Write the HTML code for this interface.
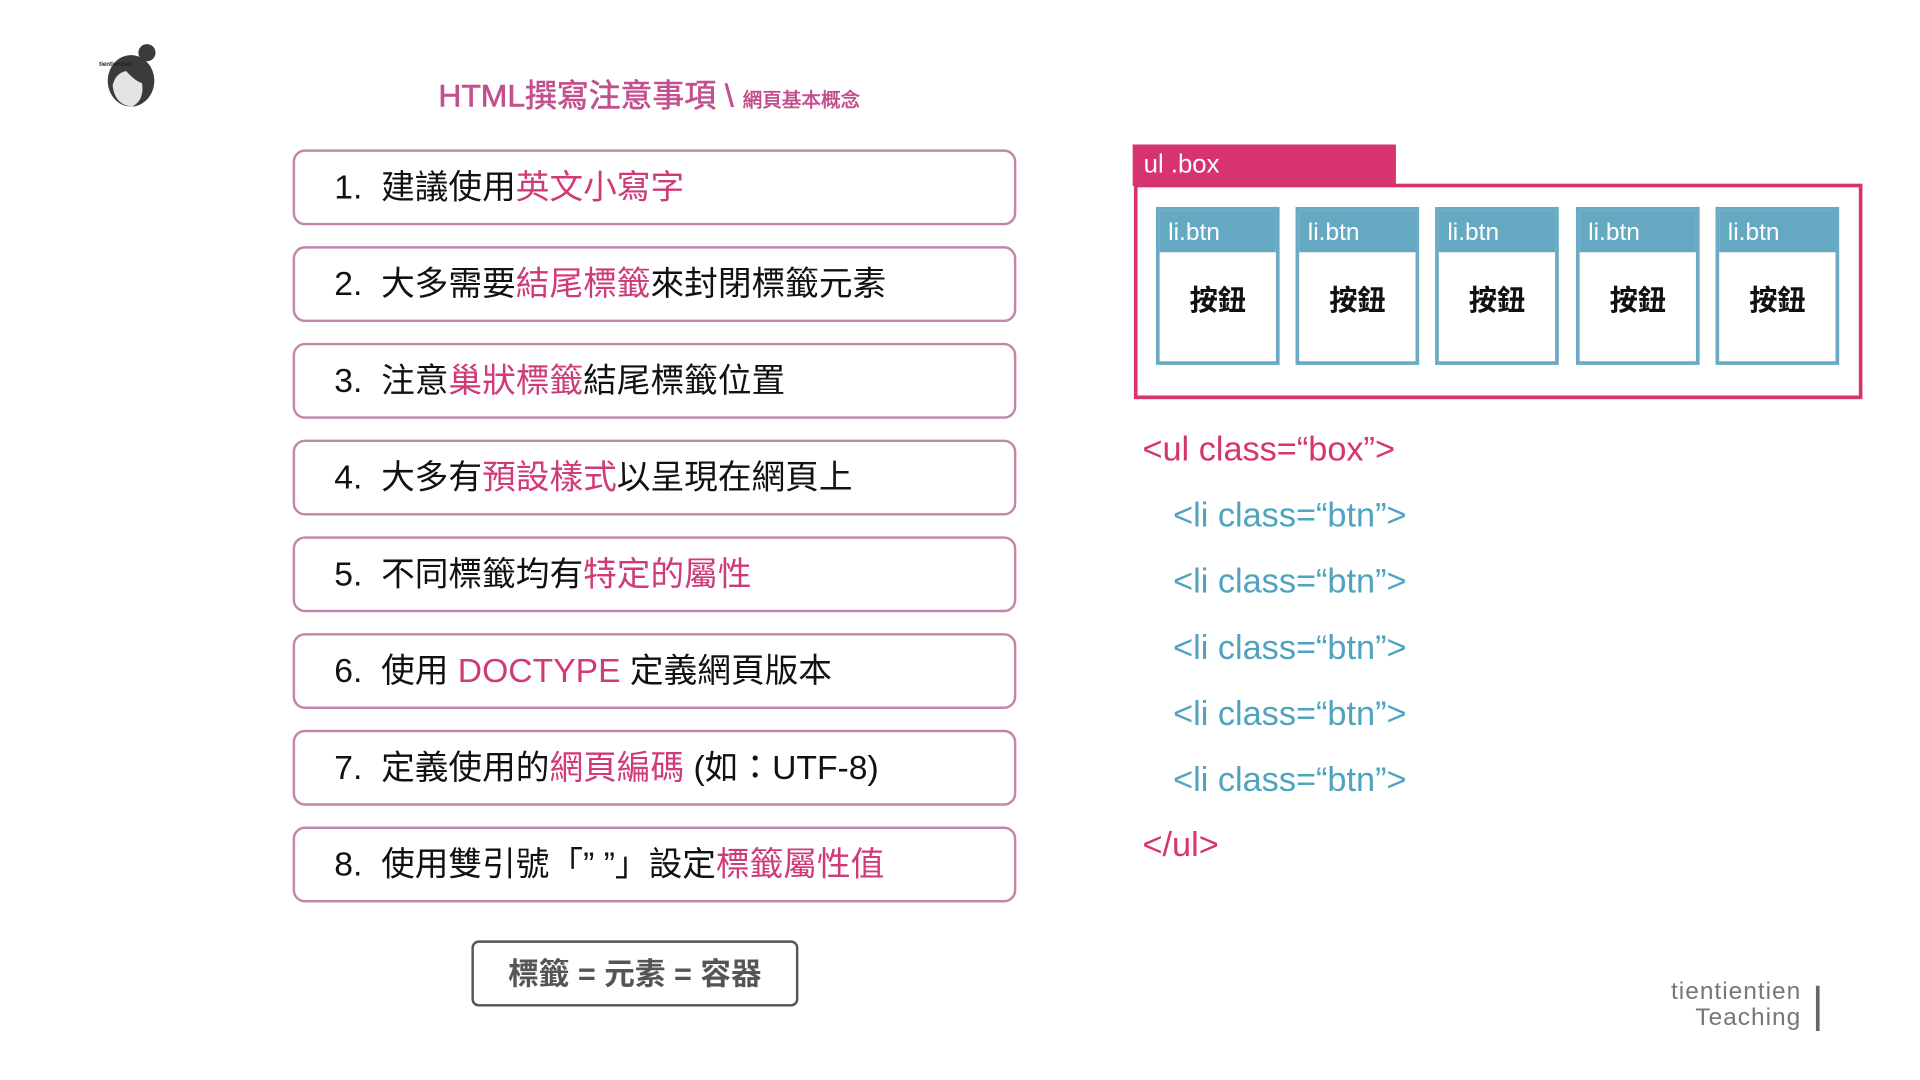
<!DOCTYPE html>
<html><head><meta charset="utf-8"><style>
html,body{margin:0;padding:0;background:#fff;width:1920px;height:1080px;overflow:hidden}
#c{position:absolute;left:0;top:0;width:1568px;height:882px;transform:scale(1.2245);transform-origin:0 0;font-family:"Liberation Sans","Noto Sans CJK TC",sans-serif}
.a{position:absolute}
.item{position:absolute;left:239px;width:587px;height:58px;border:2.5px solid #c386ab;border-radius:10px;font-size:27.5px;line-height:58px;color:#111;white-space:nowrap}
.item span.n{display:inline-block;margin-left:32px}
.h{color:#cf3a78}
.li{position:absolute;top:169px;width:95px;height:123px;border:3px solid #6aaac4;background:#fff}
.li .hd{background:#65a8c2;height:34px;color:#fff;font-size:20px;line-height:36px;padding-left:7px}
.li .bd{text-align:center;font-weight:bold;font-size:23px;margin-top:20px;color:#111}
.code{position:absolute;font-size:28px;color:#4fa3be;white-space:nowrap}
</style></head><body><div id="c">
<svg class="a" style="left:80px;top:32px" width="55" height="60" viewBox="0 0 55 60">
<circle cx="40" cy="11" r="7" fill="#3d3a3b"/>
<ellipse cx="27" cy="34" rx="19" ry="21" fill="#3d3a3b"/>
<path d="M12 38 Q14 28 23 26 Q30 34 36 36 Q38 50 28 55 Q14 54 12 38Z" fill="#e6e3e6"/>
<text x="1" y="22" font-size="5" font-weight="bold" fill="#222" font-family="Liberation Sans">tientientien</text>
</svg>
<div class="a" style="left:358px;top:58px;color:#c3508e;font-size:26px;white-space:nowrap;-webkit-text-stroke:0.5px #c3508e">HTML撰寫注意事項 \ <span style="font-size:16px">網頁基本概念</span></div>

<div class="item" style="top:122px"><span class="n">1.&nbsp; 建議使用<span class="h">英文小寫字</span></span></div>
<div class="item" style="top:201px"><span class="n">2.&nbsp; 大多需要<span class="h">結尾標籤</span>來封閉標籤元素</span></div>
<div class="item" style="top:280px"><span class="n">3.&nbsp; 注意<span class="h">巢狀標籤</span>結尾標籤位置</span></div>
<div class="item" style="top:359px"><span class="n">4.&nbsp; 大多有<span class="h">預設樣式</span>以呈現在網頁上</span></div>
<div class="item" style="top:438px"><span class="n">5.&nbsp; 不同標籤均有<span class="h">特定的屬性</span></span></div>
<div class="item" style="top:517px"><span class="n">6.&nbsp; 使用 <span class="h">DOCTYPE</span> 定義網頁版本</span></div>
<div class="item" style="top:596px"><span class="n">7.&nbsp; 定義使用的<span class="h">網頁編碼</span> (如：UTF-8)</span></div>
<div class="item" style="top:675px"><span class="n">8.&nbsp; 使用雙引號「” ”」設定<span class="h">標籤屬性值</span></span></div>

<div class="a" style="left:385px;top:768px;width:263px;height:50px;border:2px solid #555;border-radius:6px;text-align:center;line-height:52px;font-size:25px;font-weight:bold;color:#555">標籤 = 元素 = 容器</div>

<div class="a" style="left:926px;top:150px;width:589px;height:170px;border:3px solid #d6336f"></div>
<div class="a" style="left:925px;top:118px;width:215px;height:34px;background:#d6336f;color:#fff;font-size:21px;line-height:34px;padding-left:9px;box-sizing:border-box">ul .box</div>
<div class="li" style="left:944px"><div class="hd">li.btn</div><div class="bd">按鈕</div></div>
<div class="li" style="left:1058px"><div class="hd">li.btn</div><div class="bd">按鈕</div></div>
<div class="li" style="left:1172px"><div class="hd">li.btn</div><div class="bd">按鈕</div></div>
<div class="li" style="left:1287px"><div class="hd">li.btn</div><div class="bd">按鈕</div></div>
<div class="li" style="left:1401px"><div class="hd">li.btn</div><div class="bd">按鈕</div></div>

<div class="code" style="left:933px;top:351px;color:#d6336f">&lt;ul class=“box”&gt;</div>
<div class="code" style="left:958px;top:405px">&lt;li class=“btn”&gt;</div>
<div class="code" style="left:958px;top:459px">&lt;li class=“btn”&gt;</div>
<div class="code" style="left:958px;top:513px">&lt;li class=“btn”&gt;</div>
<div class="code" style="left:958px;top:567px">&lt;li class=“btn”&gt;</div>
<div class="code" style="left:958px;top:621px">&lt;li class=“btn”&gt;</div>
<div class="code" style="left:933px;top:674px;color:#d6336f">&lt;/ul&gt;</div>

<div class="a" style="left:1320px;top:800px;width:151px;text-align:right;color:#777;font-size:20px;line-height:21px;letter-spacing:0.8px">tientientien<br>Teaching</div>
<div class="a" style="left:1483px;top:805px;width:3px;height:37px;background:#666"></div>
</div></body></html>
